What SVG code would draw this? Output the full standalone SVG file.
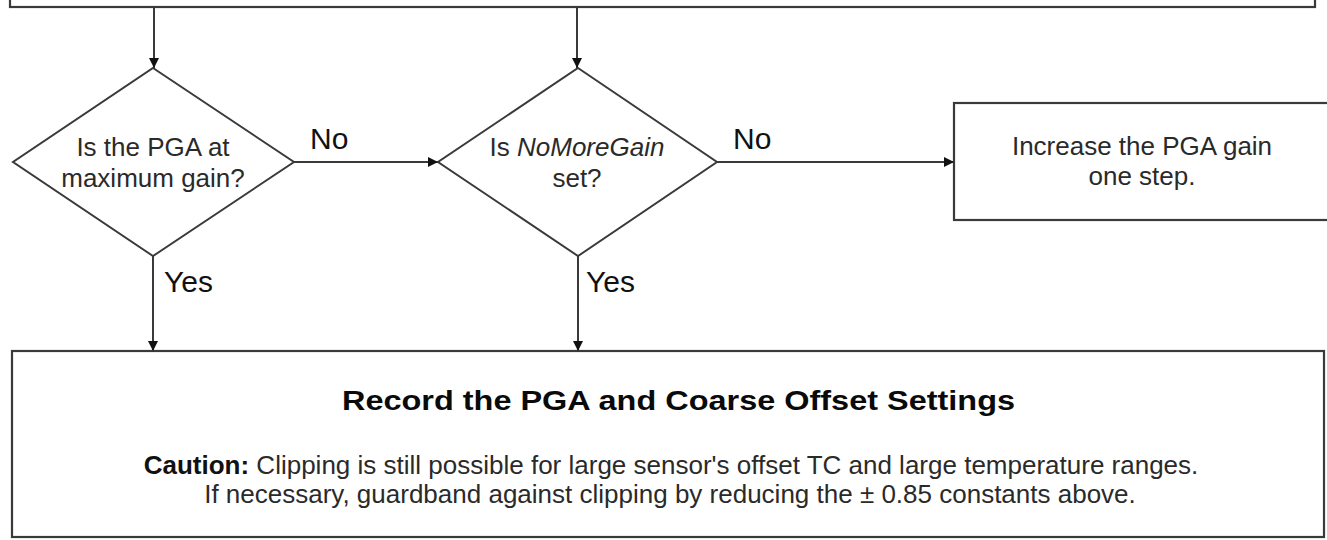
<svg xmlns="http://www.w3.org/2000/svg" width="1327" height="540" viewBox="0 0 1327 540">
  <style>
    .box { fill: #ffffff; stroke: #3a3a3a; stroke-width: 2.2; }
    .dia { fill: #ffffff; stroke: #3a3a3a; stroke-width: 2; }
    .conn { fill: none; stroke: #3a3a3a; stroke-width: 2; }
    .txt { font-family: "Liberation Sans", Arial, sans-serif; font-size: 26px; fill: #2a2a2a; }
    .lbl { font-family: "Liberation Sans", Arial, sans-serif; font-size: 30px; fill: #111111; }
    .ttl { font-family: "Liberation Sans", Arial, sans-serif; font-size: 27px; font-weight: bold; fill: #0a0a0a; }
  </style>
  <defs>
    <marker id="arrow" viewBox="0 0 10 10" refX="10" refY="5" markerWidth="11" markerHeight="10" markerUnits="userSpaceOnUse" orient="auto">
      <path d="M0,0 L10,5 L0,10 z" fill="#111111"/>
    </marker>
  </defs>
  <rect width="1327" height="540" fill="#ffffff"/>

  <g id="top-box">
    <rect class="box" x="10" y="-60" width="1305" height="67"/>
  </g>

  <g id="decision-max-gain">
    <polygon class="dia" points="153,68 294,162 153,256 13,162"/>
    <text class="txt" x="153" y="156" text-anchor="middle">Is the PGA at</text>
    <text class="txt" x="153" y="187" text-anchor="middle">maximum gain?</text>
  </g>

  <g id="decision-nomoregain">
    <polygon class="dia" points="578,68 717,162 578,256 438,162"/>
    <text class="txt" x="577" y="156" text-anchor="middle">Is <tspan font-style="italic">NoMoreGain</tspan></text>
    <text class="txt" x="577" y="187" text-anchor="middle">set?</text>
  </g>

  <g id="increase-gain">
    <rect class="box" x="954" y="103" width="420" height="117"/>
    <text class="txt" x="1142" y="155" text-anchor="middle">Increase the PGA gain</text>
    <text class="txt" x="1142" y="185" text-anchor="middle">one step.</text>
  </g>

  <g id="record-settings">
    <rect class="box" x="12" y="351" width="1312" height="186"/>
    <text class="ttl" x="342" y="410" textLength="673" lengthAdjust="spacingAndGlyphs">Record the PGA and Coarse Offset Settings</text>
    <text class="txt" x="671" y="474" text-anchor="middle"><tspan font-weight="bold" fill="#111111">Caution:</tspan> Clipping is still possible for large sensor's offset TC and large temperature ranges.</text>
    <text class="txt" x="670" y="503" text-anchor="middle">If necessary, guardband against clipping by reducing the ± 0.85 constants above.</text>
  </g>

  <g id="connectors">
    <line class="conn" x1="154" y1="8" x2="154" y2="68" marker-end="url(#arrow)"/>
    <line class="conn" x1="577" y1="8" x2="577" y2="68" marker-end="url(#arrow)"/>
    <line class="conn" x1="294" y1="162" x2="438" y2="162" marker-end="url(#arrow)"/>
    <line class="conn" x1="717" y1="162" x2="954" y2="162" marker-end="url(#arrow)"/>
    <line class="conn" x1="153" y1="256" x2="153" y2="351" marker-end="url(#arrow)"/>
    <line class="conn" x1="578" y1="256" x2="578" y2="351" marker-end="url(#arrow)"/>
    <text class="lbl" x="310" y="149">No</text>
    <text class="lbl" x="733" y="149">No</text>
    <text class="lbl" x="164" y="292">Yes</text>
    <text class="lbl" x="586" y="292">Yes</text>
  </g>
</svg>
